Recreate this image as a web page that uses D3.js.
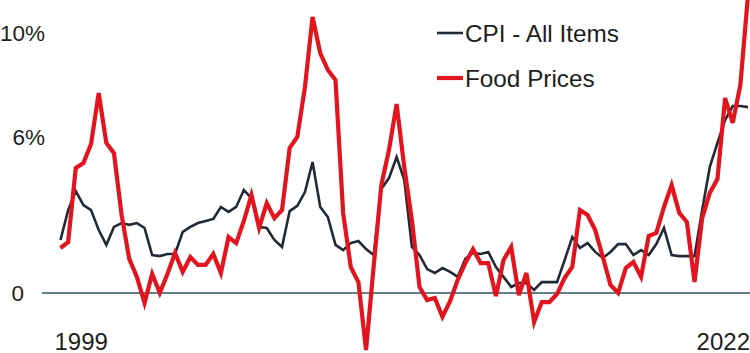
<!DOCTYPE html>
<html>
<head>
<meta charset="utf-8">
<script src="https://cdn.jsdelivr.net/npm/d3@7"></script>
<style>
  html, body { margin: 0; padding: 0; background: #fff; }
  svg { display: block; font-family: "Liberation Sans", Arial, Helvetica, sans-serif; }
</style>
</head>
<body>
<svg id="chart" width="750" height="353"></svg>
<script>
// ---- data (year-over-year %, periodic observations 1999 -> 2022) ----
const cpiAllItems = [
  2.04, 3.19, 3.92, 3.38, 3.19, 2.42, 1.85, 2.54, 2.69, 2.62,
  2.69, 2.50, 1.46, 1.42, 1.50, 1.50, 2.35, 2.54, 2.69, 2.77,
  2.85, 3.31, 3.12, 3.31, 3.96, 3.65, 2.54, 2.50, 2.04, 1.77,
  3.15, 3.35, 3.88, 5.04, 3.31, 2.92, 1.85, 1.65, 1.92, 2.00,
  1.69, 1.46, 4.00, 4.42, 5.23, 4.35, 1.77, 1.46, 0.92, 0.77,
  0.96, 0.81, 0.62, 1.31, 1.54, 1.50, 1.58, 1.00, 0.62, 0.23,
  0.38, 0.38, 0.12, 0.42, 0.42, 0.42, 1.27, 2.15, 1.73, 1.92,
  1.58, 1.35, 1.58, 1.88, 1.88, 1.46, 1.65, 1.46, 1.88, 2.50,
  1.46, 1.42, 1.42, 1.42, 3.19, 4.85, 5.77, 6.65, 7.19, 7.19,
  7.15
];
const foodPrices = [
  1.73, 1.96, 4.81, 5.00, 5.73, 7.69, 5.77, 5.38, 3.00, 1.31,
  0.62, -0.38, 0.73, 0.00, 0.73, 1.54, 0.81, 1.38, 1.08, 1.08,
  1.50, 0.77, 2.15, 1.92, 2.77, 3.77, 2.50, 3.46, 2.88, 3.19,
  5.58, 6.00, 7.92, 10.62, 9.23, 8.58, 8.19, 3.08, 1.00, 0.42,
  -2.19, 1.04, 4.15, 5.50, 7.27, 4.85, 2.81, 0.23, -0.27, -0.19,
  -0.92, -0.31, 0.50, 1.15, 1.69, 1.15, 1.15, -0.12, 1.27, 1.77,
  -0.08, 0.77, -1.12, -0.35, -0.35, -0.04, 0.58, 1.00, 3.19, 3.00,
  2.42, 1.38, 0.31, 0.00, 0.96, 1.19, 0.62, 2.19, 2.31, 3.31,
  4.15, 3.08, 2.73, 0.42, 2.88, 3.85, 4.38, 7.50, 6.54, 8.00,
  11.45
];
const yTickValues = [0, 6, 10];
const yTickLabels = ["0", "6%", "10%"];
const xTickLabels = ["1999", "2022"];
const seriesNames = ["CPI - All Items", "Food Prices"];
const seriesColors = ["#222a36", "#e2151e"];

// ---- chart ----
const svg = d3.select("#chart");
const n = foodPrices.length;

const x = d3.scaleLinear().domain([0, n - 1]).range([60.5, 748]);
const y = d3.scaleLinear().domain([0, 10]).range([293, 33]);

// zero line
svg.append("line")
  .attr("x1", 42).attr("x2", 750)
  .attr("y1", y(0)).attr("y2", y(0))
  .attr("stroke", "#2f5563").attr("stroke-width", 1.5);

// y tick labels
svg.append("g").selectAll("text")
  .data(yTickValues)
  .join("text")
  .attr("x", (d, i) => yTickLabels[i].includes("%") ? 45 : 24)
  .attr("y", d => y(d))
  .attr("dy", "0.36em")
  .attr("text-anchor", "end")
  .attr("font-size", 22.5)
  .attr("fill", "#1e1e1e")
  .text((d, i) => yTickLabels[i]);

// x labels (first and last period)
svg.append("text")
  .attr("x", x(0) - 6).attr("y", 349.5)
  .attr("font-size", 24)
  .attr("fill", "#1e1e1e")
  .text(xTickLabels[0]);
svg.append("text")
  .attr("x", 750).attr("y", 349.5)
  .attr("text-anchor", "end")
  .attr("font-size", 24)
  .attr("fill", "#1e1e1e")
  .text(xTickLabels[1]);

const line = d3.line()
  .x((d, i) => x(i))
  .y(d => y(d));

svg.append("path")
  .datum(cpiAllItems)
  .attr("fill", "none")
  .attr("stroke", seriesColors[0])
  .attr("stroke-width", 2.6)
  .attr("stroke-linejoin", "miter")
  .attr("d", line);

svg.append("path")
  .datum(foodPrices)
  .attr("fill", "none")
  .attr("stroke", seriesColors[1])
  .attr("stroke-width", 4.2)
  .attr("stroke-linejoin", "miter")
  .attr("d", line);

// legend
const legend = svg.append("g");
const legendY = [33, 78];
seriesNames.forEach((name, i) => {
  legend.append("line")
    .attr("x1", 437).attr("x2", 463)
    .attr("y1", legendY[i]).attr("y2", legendY[i])
    .attr("stroke", seriesColors[i])
    .attr("stroke-width", i === 0 ? 2.6 : 4.2);
  legend.append("text")
    .attr("x", 465).attr("y", legendY[i])
    .attr("dy", "0.36em")
    .attr("font-size", 24.3)
    .attr("fill", "#1e1e1e")
    .text(name);
});
</script>
</body>
</html>
